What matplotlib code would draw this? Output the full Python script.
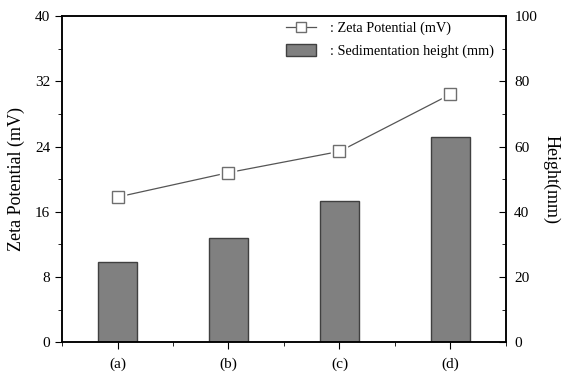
import matplotlib

matplotlib.use("Agg")
import matplotlib.pyplot as plt
from matplotlib.lines import Line2D
from matplotlib.patches import Patch
from matplotlib.ticker import MultipleLocator

plt.rcParams["font.family"] = ["Liberation Serif", "DejaVu Serif"]

samples = ["(a)", "(b)", "(c)", "(d)"]
zeta_mv = [17.8, 20.8, 23.4, 30.4]
height_mm = [24.5, 32.1, 43.2, 62.8]

x = list(range(1, len(samples) + 1))

fig = plt.figure(figsize=(5.64, 3.74), dpi=100)
ax = fig.add_axes([0.110, 0.085, 0.787, 0.872])
ax2 = ax.twinx()

# bars on the right (height) axis, drawn behind the zeta line
ax2.bar(x, height_mm, width=0.35, color="#808080", edgecolor="#404040", linewidth=1.0, zorder=1)
ax2.set_ylim(0, 100)
ax2.yaxis.set_major_locator(MultipleLocator(20))
ax2.yaxis.set_minor_locator(MultipleLocator(10))
ax2.tick_params(axis="y", which="both", direction="in", labelsize=11, pad=6)
ax2.tick_params(axis="y", which="major", length=5)
ax2.tick_params(axis="y", which="minor", length=3)
ax2.set_ylabel("Height(mm)", fontsize=13, rotation=270, labelpad=16)

ax.set_zorder(ax2.get_zorder() + 1)
ax.patch.set_visible(False)
ax.plot(x, zeta_mv, color="#555555", lw=0.9, zorder=2)
ax.plot(x, zeta_mv, ls="none", marker="s", ms=12, mfc="white", mec="white", zorder=3)
ax.plot(x, zeta_mv, ls="none", marker="s", ms=8, mfc="white", mec="#6e6e6e", mew=1.0, zorder=4)
ax.set_ylim(0, 40)
ax.set_xlim(0.5, 4.5)
ax.yaxis.set_major_locator(MultipleLocator(8))
ax.yaxis.set_minor_locator(MultipleLocator(4))
ax.set_xticks(x)
ax.set_xticklabels(samples)
ax.set_xticks([0.5, 1.5, 2.5, 3.5, 4.5], minor=True)
ax.tick_params(axis="both", which="both", direction="out", labelsize=11)
ax.tick_params(axis="both", which="major", length=5)
ax.tick_params(axis="both", which="minor", length=3)
ax.tick_params(axis="x", pad=6)
ax.set_ylabel("Zeta Potential (mV)", fontsize=13, labelpad=7)

for a in (ax, ax2):
    for s in a.spines.values():
        s.set_linewidth(1.1)

handles = [
    Line2D([], [], color="#555555", lw=0.9, marker="s", ms=6.5, mfc="white", mec="#6e6e6e"),
    Patch(facecolor="#808080", edgecolor="#404040"),
]
ax.legend(handles, [": Zeta Potential (mV)", ": Sedimentation height (mm)"],
          loc="upper right", bbox_to_anchor=(0.995, 1.015), frameon=False, fontsize=10.3,
          handlelength=2.1, handleheight=0.9, handletextpad=0.95,
          borderaxespad=0.3, labelspacing=0.6)

fig.savefig("out.png", dpi=100)
